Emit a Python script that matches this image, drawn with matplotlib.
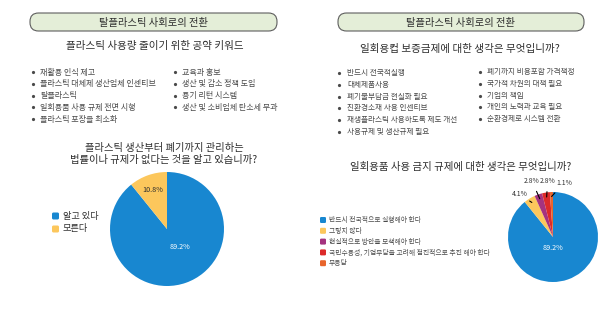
import numpy as np
import matplotlib
matplotlib.use("Agg")
import matplotlib.pyplot as plt
from matplotlib.patches import FancyBboxPatch

plt.rcParams['font.family'] = ['Noto Sans CJK KR', 'DejaVu Sans']

# -------------------------------
# Data
# -------------------------------
header = "탈플라스틱 사회로의 전환"

left_subtitle = "플라스틱 사용량 줄이기 위한 공약 키워드"
left_col1 = ["재활용 인식 제고", "플라스틱 대체제 생산업체 인센티브", "탈플라스틱",
             "일회용품 사용 규제 전면 시행", "플라스틱 포장을 최소화"]
left_col2 = ["교육과 홍보", "생산 및 감소 정책 도입", "용기 리턴 시스템",
             "생산 및 소비업체 탄소세 부과"]
left_question = "플라스틱 생산부터 폐기까지 관리하는\n법률이나 규제가 없다는 것을 알고 있습니까?"
left_labels = ["알고 있다", "모른다"]
left_values = [89.2, 10.8]
left_colors = ["#1887d0", "#fcc75c"]

right_subtitle = "일회용컵 보증금제에 대한 생각은 무엇입니까?"
right_col1 = ["반드시 전국적실행", "대체제품사용", "폐기물부담금 현실화 필요",
              "친환경소재 사용 인센티브", "재생플라스틱 사용하도록 제도 개선",
              "사용규제 및 생산규제 필요"]
right_col2 = ["폐기까지 비용포함 가격책정", "국가적 차원의 대책 필요", "기업의 책임",
              "개인의 노력과 교육 필요", "순환경제로 시스템 전환"]
right_question = "일회용품 사용 금지 규제에 대한 생각은 무엇입니까?"
right_labels = ["반드시 전국적으로 실행해야 한다", "그렇지 않다", "현실적으로 방안을 모색해야 한다",
                "국민수용성, 기업부담을 고려해 점진적으로 추진 해야 한다", "무응답"]
right_values = [89.2, 4.1, 2.8, 2.8, 1.1]
right_colors = ["#1887d0", "#fcc75c", "#a5337f", "#dc2a2a", "#e8652c"]

W, H = 616, 311
TXT = "#2e2e2e"
BUL = "#4a4a4a"

fig = plt.figure(figsize=(W / 100, H / 100), dpi=100)
fig.patch.set_facecolor("white")
bg = fig.add_axes([0, 0, 1, 1])
bg.set_xlim(0, W)
bg.set_ylim(H, 0)
bg.axis("off")


def header_box(x0, x1, y0, y1):
    box = FancyBboxPatch((x0 + 8, y0), x1 - x0 - 16, y1 - y0,
                         boxstyle="round,pad=0,rounding_size=8.5",
                         fc="#e4eed8", ec="#5e5e5e", lw=0.8)
    bg.add_patch(box)
    bg.text((x0 + x1) / 2, (y0 + y1) / 2 + 0.5, header, ha="center", va="center",
            fontsize=7.4, color=TXT, fontweight="medium")


def bullets(items, xb, xt, y0, dy, fs):
    for i, s in enumerate(items):
        y = y0 + i * dy
        bg.plot(xb, y, "o", ms=2.3, color=BUL, mec="none")
        bg.text(xt, y, s, ha="left", va="center", fontsize=fs, color=BUL)


def pie_axes(cx, cy, r):
    ax = fig.add_axes([(cx - r) / W, 1 - (cy + r) / H, 2 * r / W, 2 * r / H])
    ax.set_xlim(-1, 1)
    ax.set_ylim(-1, 1)
    ax.set_aspect("equal")
    ax.axis("off")
    return ax


# -------------------------------
# Left panel
# -------------------------------
header_box(22, 285, 13, 31)
bg.text(155, 46, left_subtitle, ha="center", va="center", fontsize=7.6, color=TXT,
        fontweight="medium")
bullets(left_col1, 33, 40, 72, 11.8, 5.8)
bullets(left_col2, 175, 182, 72, 11.8, 5.8)
bg.text(164, 154, left_question, ha="center", va="center", fontsize=7.4,
        color=TXT, linespacing=1.25, fontweight="medium")

ax1 = pie_axes(167, 229, 57)
ax1.pie(left_values, colors=left_colors, startangle=90, counterclock=False,
        radius=1, wedgeprops=dict(lw=0))
ax1.set_xlim(-1, 1)
ax1.set_ylim(-1, 1)
ax1.text(0.23, -0.32, f"{left_values[0]}%", ha="center", va="center",
         fontsize=5.2, color="white")
ax1.text(-0.25, 0.68, f"{left_values[1]}%", ha="center", va="center",
         fontsize=5.2, color=TXT)

for i, (lab, c) in enumerate(zip(left_labels, left_colors)):
    y = 216 + i * 13
    bg.add_patch(FancyBboxPatch((52, y - 3.5), 7, 7, boxstyle="round,pad=0,rounding_size=1.5",
                                fc=c, ec="none"))
    bg.text(63, y, lab, ha="left", va="center", fontsize=6.6, color=TXT)

# -------------------------------
# Right panel
# -------------------------------
header_box(330, 592, 13, 31)
bg.text(460, 49, right_subtitle, ha="center", va="center", fontsize=7.6, color=TXT,
        fontweight="medium")
bullets(right_col1, 339, 347, 73, 11.8, 5.5)
bullets(right_col2, 480, 487, 72, 11.8, 5.5)
bg.text(461, 167, right_question, ha="center", va="center", fontsize=7.5, color=TXT,
        fontweight="medium")

ax2 = pie_axes(553, 237, 45)
wedges, _ = ax2.pie(right_values, colors=right_colors, startangle=90, counterclock=False,
                    radius=1, wedgeprops=dict(lw=0))
ax2.set_xlim(-1, 1)
ax2.set_ylim(-1, 1)
ax2.text(0.0, -0.25, f"{right_values[0]}%", ha="center", va="center",
         fontsize=5.2, color="white")

label_pos = [None, (-0.75, 0.95), (-0.47, 1.25), (-0.12, 1.25), (0.24, 1.2)]
for w, v, pos in zip(wedges, right_values, label_pos):
    if pos is None:
        continue
    ang = np.deg2rad((w.theta1 + w.theta2) / 2)
    tip = (0.9 * np.cos(ang), 0.9 * np.sin(ang))
    ax2.annotate(f"{v}%", xy=tip, xytext=pos, ha="center", va="center",
                 fontsize=4.9, color=TXT, annotation_clip=False,
                 arrowprops=dict(arrowstyle="-", color="black", lw=0.8,
                                 shrinkA=3, shrinkB=0))

for i, (lab, c) in enumerate(zip(right_labels, right_colors)):
    y = 220 + i * 10.8
    bg.add_patch(FancyBboxPatch((320, y - 3), 6, 6, boxstyle="round,pad=0,rounding_size=1.2",
                                fc=c, ec="none"))
    bg.text(329, y, lab, ha="left", va="center", fontsize=4.9, color=BUL)

fig.savefig("out.png", dpi=100, facecolor="white")
